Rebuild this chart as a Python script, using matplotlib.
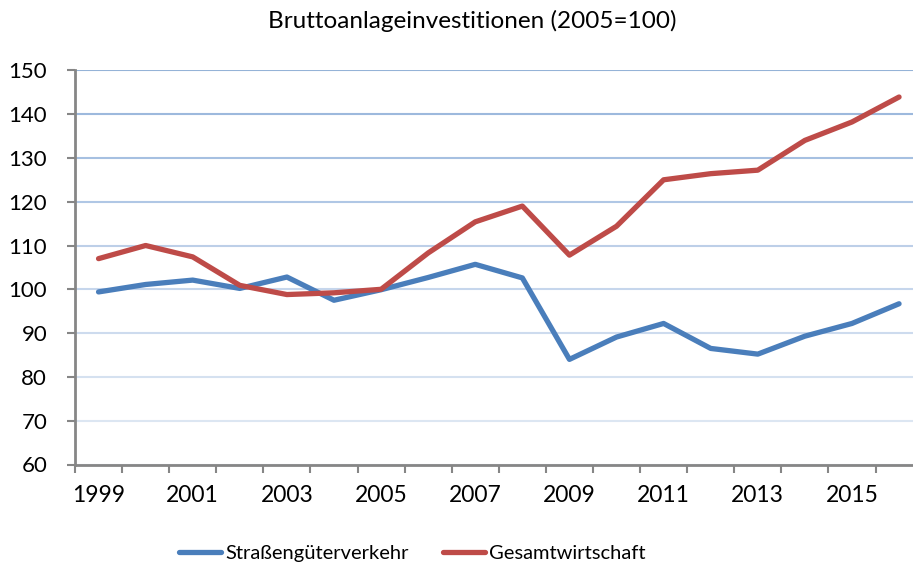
import matplotlib
matplotlib.use('Agg')
import matplotlib.pyplot as plt
import numpy as np

plt.rcParams['font.family'] = ['Lato', 'DejaVu Sans']

years = list(range(1999, 2017))
strasse = [99.4, 101.1, 102.1, 100.2, 102.8, 97.5, 99.9, 102.7, 105.7,
           102.6, 84.0, 89.1, 92.2, 86.5, 85.2, 89.3, 92.2, 96.7]
gesamt = [107.0, 110.0, 107.4, 100.9, 98.8, 99.2, 100.0, 108.3, 115.4,
          119.0, 107.8, 114.4, 125.0, 126.4, 127.2, 134.0, 138.2, 143.9]
labels = ['Straßengüterverkehr', 'Gesamtwirtschaft']
yticks = list(range(60, 151, 10))

fig = plt.figure(figsize=(9.13, 5.68), dpi=100)
ax = fig.add_axes([75 / 913, 1 - 464.5 / 568, 847.6 / 913, 394.2 / 568])

x = np.arange(len(years))
ax.plot(x, strasse, color='#4A7EBB', lw=3.8, solid_capstyle='round', label=labels[0])
ax.plot(x, gesamt, color='#BE4B48', lw=3.8, solid_capstyle='round', label=labels[1])

ax.set_xlim(-0.5, len(years) - 0.5)
ax.set_ylim(60, 150)
ax.set_yticks(yticks)
ax.set_yticklabels([str(v) for v in yticks])

# Excel style category axis: ticks between categories, labels on every other year
ax.set_xticks(np.arange(len(years) + 1) - 0.5)
ax.set_xticklabels([])
ax.set_xticks(x[::2], minor=True)
ax.set_xticklabels([str(y) for y in years[::2]], minor=True)
ax.tick_params(axis='x', which='minor', length=0, pad=15, labelsize=16.5)
ax.tick_params(axis='x', which='major', length=6, width=1.5, color='#868686')
ax.tick_params(axis='y', length=6, width=1.5, color='#868686', labelsize=16, pad=14)

ax.grid(axis='y', lw=1.5)
gl = ax.get_ygridlines()
cols = ['#DCE6F2', '#DCE6F2', '#D5E1F0', '#CDDBEE', '#C6D6EC', '#BDCFE8',
        '#B0C7E5', '#A6C0E1', '#9DB9DD', '#95B3D7']
for g, c in zip(gl, cols):
    g.set_color(c)
ax.set_axisbelow(True)

for s in ['top', 'right']:
    ax.spines[s].set_visible(False)
for s in ['left', 'bottom']:
    ax.spines[s].set_color('#868686')
    ax.spines[s].set_linewidth(2)

fig.text(472 / 913, 1 - 21 / 568, 'Bruttoanlageinvestitionen (2005=100)',
         ha='center', va='center', fontsize=17.5)

fig.legend(loc='center', bbox_to_anchor=(412 / 913, 1 - 553 / 568), ncol=2,
           frameon=False, fontsize=14.5, handlelength=2.1, handletextpad=0.2,
           columnspacing=1.7)

fig.savefig('out.png', dpi=100)
